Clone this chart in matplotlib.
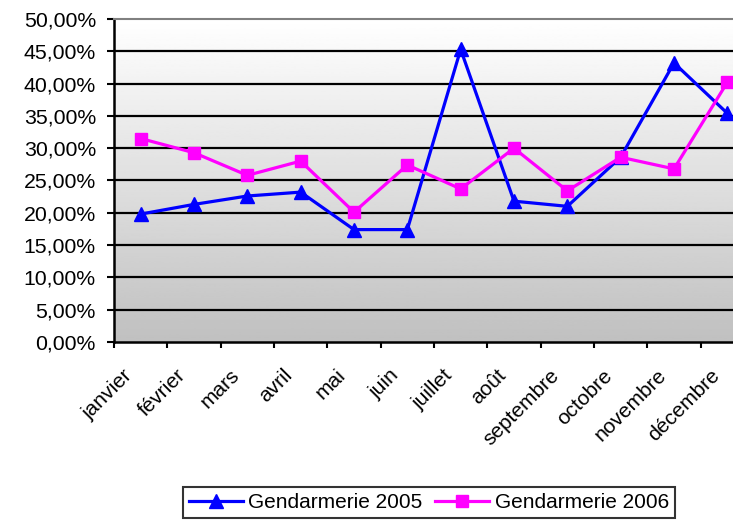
import matplotlib
matplotlib.use("Agg")
import matplotlib.pyplot as plt
import matplotlib.transforms as mtransforms
import numpy as np

plt.rcParams['font.family'] = ['Liberation Sans', 'DejaVu Sans']

mois = ["janvier", "février", "mars", "avril", "mai", "juin", "juillet",
        "août", "septembre", "octobre", "novembre", "décembre"]
g2005 = [19.8, 21.3, 22.6, 23.2, 17.4, 17.4, 45.3, 21.8, 21.0, 28.6, 43.2, 35.4]
g2006 = [31.5, 29.3, 25.8, 28.0, 20.1, 27.4, 23.7, 30.0, 23.4, 28.6, 26.8, 40.2]
yticks = [0, 5, 10, 15, 20, 25, 30, 35, 40, 45, 50]
ytick_labels = ["%d,00%%" % v for v in yticks]

W, H = 733, 524
fig = plt.figure(figsize=(W / 100, H / 100), dpi=100)
ax = fig.add_axes([114 / W, (H - 342) / H, 640 / W, 323 / H])

# gradient background
grad = np.linspace(0.753, 1.0, 256).reshape(-1, 1)
ax.imshow(grad, cmap='gray', vmin=0, vmax=1, aspect='auto',
          extent=[0, 1, 0, 1], transform=ax.transAxes, origin='lower', zorder=0)

x = np.arange(len(mois))
ax.set_xlim(-0.5, len(mois) - 0.5)
ax.set_ylim(0, 50)

for v in yticks[1:-1]:
    ax.axhline(v, color='black', lw=1.6, zorder=1)

ax.plot(x, g2005, color='#0000ff', lw=2.3, marker='^', markersize=10,
        label='Gendarmerie 2005', zorder=3, clip_on=False)
ax.plot(x, g2006, color='#ff00ff', lw=2.3, marker='s', markersize=8.5,
        label='Gendarmerie 2006', zorder=3, clip_on=False)

ax.set_yticks(yticks)
ax.set_yticklabels(ytick_labels, fontsize=15.3)
ax.tick_params(axis='y', length=5, width=1.5, pad=8, color='black')

ax.set_xticks(x)
ax.set_xticklabels(mois, fontsize=15, rotation=45, ha='right', va='center',
                   rotation_mode='anchor')
ax.tick_params(axis='x', which='major', length=0, pad=22)
ax.set_xticks(np.arange(-0.5, len(mois) + 0.5, 1), minor=True)
ax.tick_params(axis='x', which='minor', length=4.5, width=1.5, color='black')
offset = mtransforms.ScaledTranslation(-11 / 100, 0, fig.dpi_scale_trans)
for lab in ax.get_xticklabels():
    lab.set_transform(lab.get_transform() + offset)

for s in ['left', 'bottom']:
    ax.spines[s].set_linewidth(1.8)
    ax.spines[s].set_color('black')
ax.spines['top'].set_color('#808080')
ax.spines['top'].set_linewidth(1.5)
ax.spines['right'].set_visible(False)

leg = fig.legend(loc='center', bbox_to_anchor=(429 / W, 21.5 / H), ncol=2,
                 fontsize=15, frameon=True, fancybox=False, edgecolor='black',
                 handlelength=2.6, handletextpad=0.25, columnspacing=0.6,
                 borderpad=0.3, borderaxespad=0)
leg.get_frame().set_linewidth(1.5)

fig.savefig('out.png', dpi=100)
